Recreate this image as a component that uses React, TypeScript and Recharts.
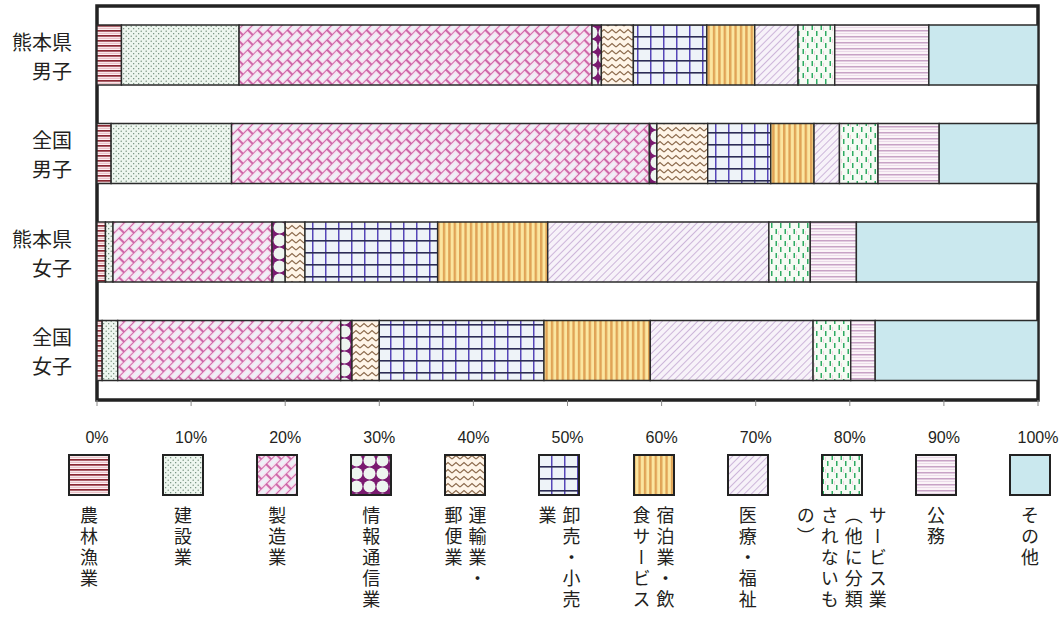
import React from 'react';
import { BarChart, Bar, XAxis, YAxis, Legend, ReferenceArea } from 'recharts';

// ---- data (percent of employed, by industry) ----
const categories = ['熊本県\n男子', '全国\n男子', '熊本県\n女子', '全国\n女子'];
const agriculture = [2.6, 1.5, 0.9, 0.55];
const construction = [12.5, 12.8, 0.8, 1.65];
const manufacturing = [37.5, 44.4, 16.9, 23.7];
const infoComm = [1.0, 0.8, 1.4, 1.2];
const transport = [3.4, 5.4, 2.1, 2.9];
const wholesale = [7.8, 6.7, 14.1, 17.5];
const hospitality = [5.1, 4.6, 11.7, 11.3];
const medical = [4.6, 2.7, 23.5, 17.3];
const services = [3.9, 4.1, 4.4, 4.0];
const publicService = [10.0, 6.5, 4.9, 2.6];
const others = [11.6, 10.5, 19.3, 17.3];
const xTicks = [0, 10, 20, 30, 40, 50, 60, 70, 80, 90, 100];

const seriesKeys = ['agri', 'const', 'mfg', 'info', 'trans', 'whole', 'hotel', 'med', 'serv', 'pub', 'other'];
const seriesNames = [
  '農林漁業', '建設業', '製造業', '情報通信業', '運輸業・郵便業', '卸売業・小売業',
  '宿泊業・飲食サービス', '医療・福祉', 'サービス業（他に分類されないもの）', '公務', 'その他',
];
const legendColumns = [
  ['農林漁業'], ['建設業'], ['製造業'], ['情報通信業'], ['運輸業・', '郵便業'], ['卸売・小売', '業'],
  ['宿泊業・飲', '食サービス'], ['医療・福祉'], ['サービス業', '（他に分類', 'されないも', 'の）'], ['公務'], ['その他'],
];
const seriesValues = [agriculture, construction, manufacturing, infoComm, transport, wholesale,
  hospitality, medical, services, publicService, others];

const data = categories.map((name, i) => {
  const row: Record<string, any> = { name };
  seriesKeys.forEach((k, s) => { row[k] = seriesValues[s][i]; });
  return row;
});

// ---- layout ----
const W = 1064;
const H = 619;
const Y_AXIS_W = 97;
const M_RIGHT = 26;
const PLOT_W = W - Y_AXIS_W - M_RIGHT;
const STEP = PLOT_W / 10;
const LEG_FIRST = Y_AXIS_W - 8;
const JP = '"Noto Sans CJK JP", "Noto Sans", sans-serif';
const NUM = '"Liberation Sans", Arial, sans-serif';
const INK = '#231f20';

const Patterns = () => (
  <svg width={0} height={0} style={{ position: 'absolute' }}>
    <defs>
      <pattern id="p-agri" width="6" height="5" patternUnits="userSpaceOnUse">
        <rect width="6" height="5" fill="#fdf2f3" />
        <rect y="0" width="6" height="1.7" fill="#8a2833" />
        <rect y="2.8" width="6" height="1" fill="#e6b6be" />
      </pattern>
      <pattern id="p-const" width="5" height="5" patternUnits="userSpaceOnUse">
        <rect width="5" height="5" fill="#eef6ef" />
        <circle cx="1.2" cy="1.2" r="0.65" fill="#5d7c66" />
        <circle cx="3.7" cy="3.7" r="0.65" fill="#5d7c66" />
      </pattern>
      <pattern id="p-mfg" width="14" height="14" patternUnits="userSpaceOnUse" patternTransform="rotate(-45)">
        <rect width="14" height="14" fill="#c85aa2" />
        <rect x="0.9" y="0.9" width="12.2" height="6.2" fill="#f8dcec" />
        <rect x="2.2" y="2.2" width="9.6" height="3.6" fill="#eef1f8" />
        <rect x="-6.1" y="7.9" width="12.2" height="6.2" fill="#f8dcec" />
        <rect x="-4.8" y="9.2" width="9.6" height="3.6" fill="#eef1f8" />
        <rect x="7.9" y="7.9" width="12.2" height="6.2" fill="#f8dcec" />
        <rect x="9.2" y="9.2" width="9.6" height="3.6" fill="#eef1f8" />
      </pattern>
      <pattern id="p-info" width="13" height="13" patternUnits="userSpaceOnUse">
        <rect width="13" height="13" fill="#7a1a70" />
        <circle cx="6.5" cy="6.5" r="6" fill="#eef5f0" />
      </pattern>
      <pattern id="p-trans" width="8" height="7" patternUnits="userSpaceOnUse">
        <rect width="8" height="7" fill="#fff5e9" />
        <path d="M0 5 L4 1.5 L8 5" stroke="#8c6a4c" strokeWidth="1.1" fill="none" />
      </pattern>
      <pattern id="p-whole" width="13" height="12" patternUnits="userSpaceOnUse">
        <rect width="13" height="12" fill="#eef3f8" />
        <rect x="0" y="0" width="1.5" height="12" fill="#5646b8" />
        <rect x="0" y="0" width="13" height="1.6" fill="#2c2c54" />
      </pattern>
      <pattern id="p-hotel" width="5.4" height="10" patternUnits="userSpaceOnUse">
        <rect width="5.4" height="10" fill="#fbe6a0" />
        <rect x="0" width="2.4" height="10" fill="#e0a356" />
      </pattern>
      <pattern id="p-med" width="5" height="5" patternUnits="userSpaceOnUse" patternTransform="rotate(45)">
        <rect width="5" height="5" fill="#f7f2f9" />
        <rect x="0" width="1" height="5" fill="#cdb6da" />
      </pattern>
      <pattern id="p-serv" width="9" height="12" patternUnits="userSpaceOnUse">
        <rect width="9" height="12" fill="#f6fbf4" />
        <rect x="4" y="3" width="1" height="4" fill="#f0d3e0" />
        <rect x="1.5" y="1" width="1.5" height="5" fill="#2eab62" />
        <rect x="6" y="7" width="1.5" height="5" fill="#2eab62" />
      </pattern>
      <pattern id="p-pub" width="6" height="6" patternUnits="userSpaceOnUse">
        <rect width="6" height="6" fill="#fbf4f8" />
        <rect y="0" width="6" height="1.5" fill="#c8a2c6" />
        <rect y="3" width="6" height="0.8" fill="#e8d4e6" />
      </pattern>
      <pattern id="p-other" width="4" height="4" patternUnits="userSpaceOnUse">
        <rect width="4" height="4" fill="#cae8ee" />
      </pattern>
    </defs>
  </svg>
);

const YTick = (props: any) => {
  const { x, y, payload } = props;
  const lines = String(payload.value).split('\n');
  return (
    <g>
      <text x={x} y={y - 14} textAnchor="end" dominantBaseline="central" fontSize={20} fontFamily={JP} fill={INK}>{lines[0]}</text>
      <text x={x} y={y + 15} textAnchor="end" dominantBaseline="central" fontSize={20} fontFamily={JP} fill={INK}>{lines[1]}</text>
    </g>
  );
};

const renderLegend = () => (
  <div style={{ position: 'relative', width: W, height: 171 }}>
    {seriesKeys.map((k, i) => (
      <div
        key={k}
        style={{
          position: 'absolute', left: LEG_FIRST + i * STEP - STEP / 2, top: 6, width: STEP,
          display: 'flex', flexDirection: 'column', alignItems: 'center',
        }}
      >
        <svg width={42} height={42} style={{ display: 'block' }}>
          <rect x={1} y={1} width={40} height={40} fill={`url(#p-${k})`} stroke="#222" strokeWidth={2} />
        </svg>
        <div
          style={{
            writingMode: 'vertical-rl', fontSize: 18, letterSpacing: 3, lineHeight: '24px',
            marginTop: 10, fontFamily: JP, color: INK, whiteSpace: 'pre',
          }}
        >
          {legendColumns[i].join('\n')}
        </div>
      </div>
    ))}
  </div>
);

export default function App() {
  return (
    <div style={{ position: 'absolute', left: 0, top: 0, width: W, height: H, background: '#fff' }}>
      <Patterns />
      <BarChart
        width={W}
        height={H}
        data={data}
        layout="vertical"
        margin={{ top: 6, right: M_RIGHT, left: 0, bottom: 0 }}
        barSize={60}
      >
        <XAxis
          type="number"
          domain={[0, 100]}
          ticks={xTicks}
          tickFormatter={(v: number) => `${v}%`}
          axisLine={false}
          tickLine={{ stroke: '#8a8a8a' }}
          tickSize={6}
          tickMargin={26}
          height={48}
          interval={0}
          tick={{ fontSize: 16, fill: INK, fontFamily: NUM }}
        />
        <YAxis
          type="category"
          dataKey="name"
          width={Y_AXIS_W}
          axisLine={false}
          tickLine={false}
          tickSize={0}
          tickMargin={25}
          tick={<YTick />}
        />
        {seriesKeys.map((k, i) => (
          <Bar
            key={k}
            dataKey={k}
            name={seriesNames[i]}
            stackId="a"
            fill={`url(#p-${k})`}
            stroke="#2b2b2b"
            strokeWidth={1.4}
            isAnimationActive={false}
          />
        ))}
        <ReferenceArea x1={0} x2={100} fill="none" stroke="#222" strokeWidth={3.5} ifOverflow="visible" />
        <Legend
          verticalAlign="bottom"
          content={renderLegend}
          wrapperStyle={{ position: 'absolute', left: 0, top: 448, width: W, height: 171 }}
        />
      </BarChart>
    </div>
  );
}
